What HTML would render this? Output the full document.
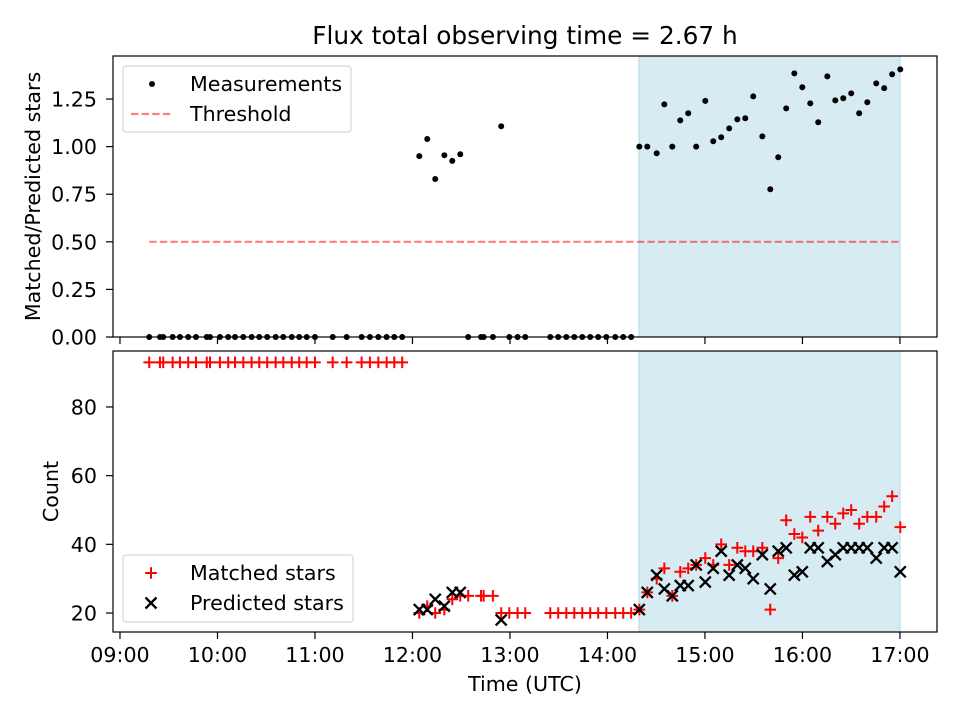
<!DOCTYPE html>
<html><head><meta charset="utf-8"><style>
body{margin:0;background:#fff}
svg{display:block;font-family:"DejaVu Sans","Liberation Sans",sans-serif}
</style></head><body>
<svg id="c" width="960" height="720" xmlns="http://www.w3.org/2000/svg"></svg>
<script>
// time in minutes after 09:00
const timesMin = [18,24.6,26.6,32.4,36.9,42,46.8,53.4,55.4,61.5,66.6,70.8,75.9,81,85.7,90.6,95.8,100.5,105.7,110.3,114.9,120,130.9,139.5,148.7,153.8,159,164.1,168.8,173.7,
184.2,189.1,194,199.6,204.5,209.4,214.3,222.2,223.8,229.5,234.6,239.6,244.7,249.4,264.8,269.7,274.7,279.6,284.5,289.4,294.3,299.3,304.8,309.7,314.6,
319.6,324.5,330.3,335,339.9,344.8,349.7,354.6,360.2,365.1,370,374.9,379.9,384.8,389.7,395.3,400.2,405.1,410,415,419.9,424.8,429.7,435.3,440.2,445.1,450,454.9,459.9,465.4,470.3,475.2,480.2];
const ratio = [0,0,0,0,0,0,0,0,0,0,0,0,0,0,0,0,0,0,0,0,0,0,0,0,0,0,0,0,0,0,
0.95,1.04,0.83,0.955,0.925,0.96,0,0,0,0,1.107,0,0,0,0,0,0,0,0,0,0,0,0,0,0,
1.0,1.0,0.965,1.222,1.0,1.138,1.175,1.0,1.24,1.028,1.049,1.096,1.143,1.149,1.264,1.054,0.776,0.944,1.201,1.385,1.312,1.227,1.128,1.369,1.243,1.254,1.28,1.175,1.233,1.332,1.307,1.38,1.406];
const matched = [93,93,93,93,93,93,93,93,93,93,93,93,93,93,93,93,93,93,93,93,93,93,93,93,93,93,93,93,93,93,
20,22,20,21,24,25,25,25,25,25,20,20,20,20,20,20,20,20,20,20,20,20,20,20,20,
21,26,30,33,25,32,33,34,36,34,40,34,39,38,38,39,21,36,47,43,42,48,44,48,46,49,50,46,48,48,51,54,45];
const predicted = [null,null,null,null,null,null,null,null,null,null,null,null,null,null,null,null,null,null,null,null,null,null,null,null,null,null,null,null,null,null,
21,21,24,22,26,26,null,null,null,null,18,null,null,null,null,null,null,null,null,null,null,null,null,null,null,
21,26,31,27,25,28,28,34,29,33,38,31,34,33,30,37,27,38,39,31,32,39,39,35,37,39,39,39,39,36,39,39,32];
const threshold = 0.5;
const thresholdSpan = [18,480];
const shadeSpan = [319.4,480];
const xTickLabels = ["09:00","10:00","11:00","12:00","13:00","14:00","15:00","16:00","17:00"];
const topTicks = [0,0.25,0.5,0.75,1.0,1.25];
const botTicks = [20,40,60,80];

const S = document.getElementById('c'), NS = "http://www.w3.org/2000/svg";
function mk(tag, attrs, name, parent){
  const e = document.createElementNS(NS, tag);
  for (const k in attrs) e.setAttribute(k, attrs[k]);
  
  
  (parent||S).appendChild(e); return e;
}
const FS=20.6;
const L=113,R=937;
const X = m => L + (m + 4.3) / (502.8 + 4.3) * (R - L);
const T0=56,T1=337, B0=351,B1=632;
const YT = v => T1 - v / 1.476 * (T1 - T0);
const YB = v => B1 - (v - 14.47) / (96.3 - 14.47) * (B1 - B0);

const t = mk('text',{x:525,y:44,'text-anchor':'middle','font-size':24.8},'chart-title'); t.textContent='Flux total observing time = 2.67 h';

mk('rect',{x:X(shadeSpan[0]),y:T0,width:X(shadeSpan[1])-X(shadeSpan[0]),height:T1-T0,fill:'#add8e6','fill-opacity':0.5,stroke:'#add8e6'},'observing-span-top');
mk('rect',{x:X(shadeSpan[0]),y:B0,width:X(shadeSpan[1])-X(shadeSpan[0]),height:B1-B0,fill:'#add8e6','fill-opacity':0.5,stroke:'#add8e6'},'observing-span-bottom');

mk('line',{x1:X(thresholdSpan[0]),x2:X(thresholdSpan[1]),y1:YT(threshold),y2:YT(threshold),stroke:'#ff0000','stroke-opacity':0.5,'stroke-width':2.2,'stroke-dasharray':'7.4,3.2'},'threshold-line');

for (let i=0;i<timesMin.length;i++){
  mk('circle',{cx:X(timesMin[i]),cy:YT(ratio[i]),r:3,fill:'#000'},'measurement-point');
}
for (let i=0;i<timesMin.length;i++){
  const x=X(timesMin[i]), y=YB(matched[i]);
  mk('path',{d:`M${x-5.8},${y}H${x+5.8}M${x},${y-5.8}V${y+5.8}`,stroke:'#f00','stroke-width':2,fill:'none'},'matched-star-marker');
}
for (let i=0;i<timesMin.length;i++){
  if (predicted[i]==null) continue;
  const x=X(timesMin[i]), y=YB(predicted[i]);
  mk('path',{d:`M${x-5.5},${y-5.5}L${x+5.5},${y+5.5}M${x-5.5},${y+5.5}L${x+5.5},${y-5.5}`,stroke:'#000','stroke-width':2.3,fill:'none'},'predicted-star-marker');
}

mk('rect',{x:L,y:T0,width:R-L,height:T1-T0,fill:'none',stroke:'#000','stroke-width':1.2},'top-axes-frame');
mk('rect',{x:L,y:B0,width:R-L,height:B1-B0,fill:'none',stroke:'#000','stroke-width':1.2},'bottom-axes-frame');

xTickLabels.forEach((lab,i)=>{
  const x=X(i*60);
  mk('line',{x1:x,x2:x,y1:T1,y2:T1+7,stroke:'#000','stroke-width':1.2},'top-x-tick');
  mk('line',{x1:x,x2:x,y1:B1,y2:B1+7,stroke:'#000','stroke-width':1.2},'bottom-x-tick');
  const tx=mk('text',{x:x,y:B1+30,'text-anchor':'middle','font-size':FS},'x-tick-label'); tx.textContent=lab;
});
topTicks.forEach(v=>{
  const y=YT(v);
  mk('line',{x1:L-7,x2:L,y1:y,y2:y,stroke:'#000','stroke-width':1.2},'top-y-tick');
  const tx=mk('text',{x:L-16,y:y+7.5,'text-anchor':'end','font-size':FS},'top-y-tick-label'); tx.textContent=v.toFixed(2);
});
botTicks.forEach(v=>{
  const y=YB(v);
  mk('line',{x1:L-7,x2:L,y1:y,y2:y,stroke:'#000','stroke-width':1.2},'bottom-y-tick');
  const tx=mk('text',{x:L-16,y:y+7.5,'text-anchor':'end','font-size':FS},'bottom-y-tick-label'); tx.textContent=v;
});
let a=mk('text',{x:525,y:691,'text-anchor':'middle','font-size':FS},'x-axis-title'); a.textContent='Time (UTC)';
a=mk('text',{x:0,y:0,'text-anchor':'middle','font-size':FS,transform:`translate(40,${(T0+T1)/2}) rotate(-90)`},'top-y-axis-title'); a.textContent='Matched/Predicted stars';
a=mk('text',{x:0,y:0,'text-anchor':'middle','font-size':FS,transform:`translate(58,${(B0+B1)/2}) rotate(-90)`},'bottom-y-axis-title'); a.textContent='Count';

let g=mk('g',{},'top-legend');
mk('rect',{x:123,y:66,width:228,height:66,rx:3,fill:'#fff','fill-opacity':0.8,stroke:'#ccc'},'top-legend-box',g);
mk('circle',{cx:152,cy:84,r:3,fill:'#000'},'legend-measurements-marker',g);
a=mk('text',{x:190,y:91,'font-size':FS},'legend-measurements-label',g); a.textContent='Measurements';
mk('line',{x1:131,x2:173,y1:114,y2:114,stroke:'#f00','stroke-opacity':0.5,'stroke-width':2.2,'stroke-dasharray':'7.4,3.2'},'legend-threshold-line',g);
a=mk('text',{x:190,y:121,'font-size':FS},'legend-threshold-label',g); a.textContent='Threshold';

g=mk('g',{},'bottom-legend');
mk('rect',{x:123,y:555,width:230,height:67,rx:3,fill:'#fff','fill-opacity':0.8,stroke:'#ccc'},'bottom-legend-box',g);
mk('path',{d:'M145.2,573H156.8M151,567.2V578.8',stroke:'#f00','stroke-width':2},'legend-matched-marker',g);
a=mk('text',{x:190,y:580,'font-size':FS},'legend-matched-label',g); a.textContent='Matched stars';
mk('path',{d:'M145.5,597.5L156.5,608.5M145.5,608.5L156.5,597.5',stroke:'#000','stroke-width':2.3},'legend-predicted-marker',g);
a=mk('text',{x:190,y:610,'font-size':FS},'legend-predicted-label',g); a.textContent='Predicted stars';
</script>
</body></html>
